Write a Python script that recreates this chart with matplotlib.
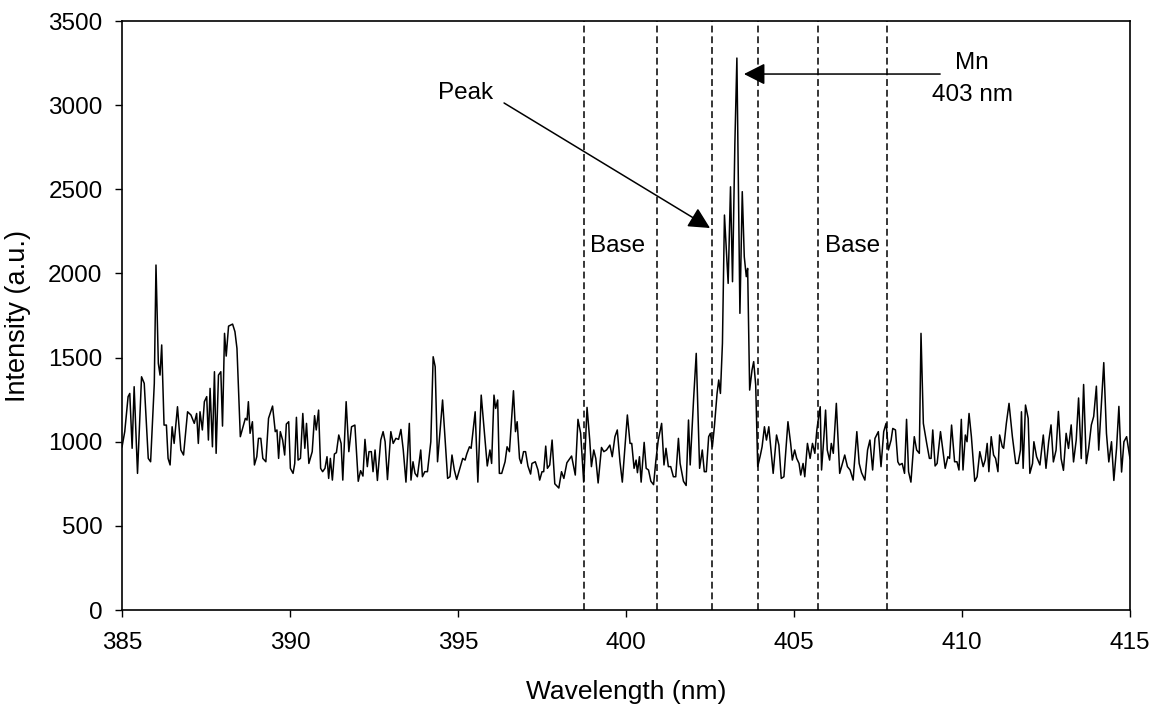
import numpy as np
import matplotlib
matplotlib.use("Agg")
import matplotlib.pyplot as plt

plt.rcParams["font.family"] = ["Liberation Sans", "DejaVu Sans"]

# ---- spectrum in segments ----
wl_a = [385.00, 385.08, 385.18, 385.23, 385.30, 385.36, 385.46, 385.58, 385.66, 385.78,
        385.85, 385.96, 386.01, 386.08, 386.13, 386.18, 386.25, 386.32, 386.37, 386.43,
        386.49, 386.55, 386.65, 386.75, 386.83, 386.95, 387.05, 387.15, 387.22, 387.27,
        387.32, 387.39, 387.45, 387.52, 387.57, 387.62, 387.69, 387.75, 387.80, 387.87,
        387.94, 387.99, 388.05, 388.10, 388.17, 388.29, 388.36]
int_a = [970, 1060, 1268, 1287, 961, 1327, 812, 1386, 1347, 901,
         881, 1347, 2050, 1466, 1396, 1575, 1099, 1099, 901, 862,
         1089, 990, 1208, 951, 921, 1178, 1159, 1109, 1168, 990,
         1178, 1070, 1238, 1268, 1010, 1317, 970, 1416, 931, 1396,
         1416, 1093, 1644, 1509, 1687, 1699, 1654]

wl_b = [388.42, 388.52, 388.60, 388.67, 388.72, 388.76, 388.81, 388.88, 388.94, 389.01,
        389.06, 389.13, 389.19, 389.28, 389.36, 389.48, 389.56, 389.61, 389.66, 389.71,
        389.78, 389.84, 389.89, 389.96, 390.01, 390.09, 390.14, 390.19, 390.24, 390.31,
        390.38, 390.44, 390.49, 390.56, 390.66, 390.73, 390.78, 390.85, 390.91, 390.97,
        391.04, 391.10, 391.15, 391.20, 391.26, 391.32, 391.38, 391.45, 391.52, 391.57,
        391.67, 391.75]
int_b = [1555, 1030, 1089, 1139, 1129, 1238, 1050, 1119, 862, 911,
         1020, 1020, 901, 881, 1139, 1212, 1060, 1070, 901, 1060,
         1010, 921, 1105, 1119, 842, 812, 871, 1145, 891, 901,
         1168, 961, 1109, 871, 941, 1155, 1070, 1188, 842, 822,
         842, 911, 782, 901, 772, 927, 935, 1040, 990, 772,
         1238, 941]

wl_c = [391.83, 391.93, 392.03, 392.10, 392.17, 392.23, 392.30, 392.35, 392.42, 392.47,
        392.53, 392.60, 392.70, 392.77, 392.83, 392.90, 393.00, 393.07, 393.15, 393.23,
        393.30, 393.37, 393.45, 393.55, 393.60, 393.66, 393.72, 393.79, 393.89, 393.94,
        394.01, 394.09, 394.19, 394.26, 394.32, 394.39, 394.54, 394.69, 394.76, 394.82,
        394.89, 394.96, 395.07, 395.14, 395.21, 395.26]
int_c = [1089, 1099, 765, 828, 796, 1014, 852, 941, 941, 822,
         951, 770, 1010, 1060, 1000, 775, 1060, 990, 1020, 1014,
         1073, 951, 760, 1109, 772, 881, 812, 792, 951, 792,
         822, 822, 1000, 1505, 1446, 881, 1248, 782, 792, 921,
         832, 776, 852, 901, 891, 927]

wl_d = [395.34, 395.39, 395.51, 395.59, 395.69, 395.87, 395.95, 396.00, 396.07, 396.12,
        396.18, 396.23, 396.30, 396.40, 396.46, 396.53, 396.65, 396.71, 396.76, 396.83,
        396.88, 396.95, 397.01, 397.08, 397.16, 397.20, 397.30, 397.38, 397.43, 397.50,
        397.55, 397.61, 397.66, 397.73, 397.80, 397.88, 398.00, 398.08, 398.15, 398.24,
        398.38, 398.49, 398.57]
int_d = [970, 961, 1178, 760, 1277, 856, 951, 871, 1277, 1198,
         1248, 812, 812, 881, 970, 941, 1303, 1060, 1119, 901,
         871, 941, 941, 856, 808, 871, 881, 832, 772, 822,
         822, 974, 842, 862, 1010, 750, 725, 822, 782, 875,
         915, 802, 1133]

wl_e = [398.65, 398.74, 398.84, 398.92, 398.97, 399.04, 399.10, 399.17, 399.27, 399.34,
        399.42, 399.52, 399.59, 399.67, 399.74, 399.82, 399.89, 400.04, 400.12, 400.17,
        400.24, 400.30, 400.34, 400.40, 400.45, 400.54, 400.60, 400.67, 400.74, 400.82,
        400.89, 400.96, 401.06, 401.13, 401.19, 401.26, 401.33, 401.41, 401.48, 401.56,
        401.61, 401.71, 401.79, 401.86, 401.91, 402.01]
int_e = [1050, 760, 1204, 1010, 852, 951, 901, 755, 966, 941,
         951, 980, 911, 1030, 1070, 881, 760, 1159, 990, 990,
         842, 891, 816, 911, 760, 996, 842, 832, 765, 745,
         891, 1010, 1109, 862, 961, 852, 852, 792, 792, 1020,
         871, 765, 740, 1129, 862, 1248]

wl_f = [402.09, 402.19, 402.27, 402.33, 402.39, 402.46, 402.51, 402.57, 402.63, 402.71,
        402.76, 402.81, 402.87, 402.93, 403.04, 403.11, 403.17, 403.24, 403.30, 403.39,
        403.46, 403.52, 403.58, 403.62, 403.68, 403.75, 403.80, 403.86, 403.92, 404.00,
        404.05, 404.12, 404.18, 404.25]
int_f = [1525, 842, 951, 822, 822, 1030, 1050, 970, 1089, 1287,
         1367, 1287, 1585, 2347, 1941, 2515, 1951, 2773, 3280, 1763,
         2486, 2099, 1981, 2030, 1307, 1426, 1476, 1337, 852, 921,
         970, 1089, 1010, 1089]

wl_g = [404.38, 404.48, 404.55, 404.62, 404.70, 404.82, 404.90, 404.95, 405.02, 405.08,
        405.15, 405.20, 405.27, 405.32, 405.40, 405.48, 405.55, 405.62, 405.68, 405.72,
        405.78, 405.82, 405.89, 405.94, 405.99, 406.06, 406.11, 406.17, 406.26, 406.36,
        406.44, 406.51, 406.59, 406.67, 406.76, 406.87, 406.94, 407.01, 407.11, 407.19,
        407.26, 407.34, 407.41, 407.51, 407.59, 407.67, 407.74, 407.81, 407.89]
int_g = [812, 1040, 980, 782, 792, 1119, 990, 891, 951, 901,
         871, 802, 871, 792, 990, 901, 990, 931, 1070, 1129,
         1208, 832, 1030, 1188, 951, 891, 990, 931, 1228, 812,
         871, 921, 852, 832, 772, 1060, 871, 816, 772, 951,
         1010, 832, 1020, 1060, 852, 1060, 1109, 951, 1010]

wl_h = [407.94, 408.02, 408.09, 408.14, 408.22, 408.29, 408.35, 408.41, 408.48, 408.58,
        408.65, 408.73, 408.78, 408.85, 408.95, 409.03, 409.08, 409.13, 409.20, 409.26,
        409.36, 409.43, 409.50, 409.58, 409.63, 409.69, 409.78, 409.85, 409.91, 409.98,
        410.03, 410.10, 410.15, 410.21, 410.28, 410.38, 410.45, 410.53, 410.63, 410.69,
        410.75, 410.80, 410.87, 410.94, 411.00, 411.07, 411.12, 411.20, 411.24, 411.32,
        411.40, 411.50, 411.60, 411.67, 411.74, 411.77, 411.82, 411.89, 411.97, 412.02,
        412.10, 412.14, 412.22, 412.32, 412.42, 412.50]
int_h = [1079, 1070, 881, 862, 871, 812, 1133, 822, 760, 1030,
         951, 931, 1644, 1109, 990, 901, 901, 1070, 856, 871,
         1060, 951, 842, 911, 901, 1099, 881, 881, 832, 1133,
         832, 1040, 1000, 1168, 1030, 765, 792, 941, 852, 891,
         990, 822, 1030, 921, 901, 822, 1040, 970, 961, 1109,
         1228, 1030, 871, 871, 951, 1178, 842, 1218, 1139, 812,
         871, 1000, 911, 862, 1040, 842]

wl_i = [412.58, 412.65, 412.72, 412.80, 412.87, 412.95, 413.02, 413.10, 413.17, 413.25,
        413.32, 413.40, 413.47, 413.55, 413.62, 413.70, 413.77, 413.85, 413.92, 414.00,
        414.07, 414.15, 414.22, 414.30, 414.37, 414.45, 414.52, 414.60, 414.67, 414.75,
        414.82, 414.90, 415.00]
int_i = [1000, 1100, 880, 950, 1180, 900, 830, 1050, 960, 1100,
         880, 1010, 1260, 900, 1340, 870, 960, 1100, 1150, 1330,
         950, 1230, 1470, 1050, 880, 1000, 770, 960, 1210, 820,
         1000, 1030, 900]

# integration windows (dashed lines), nm
window_edges = [398.75, 400.93, 402.55, 403.93, 405.72, 407.77]

wavelength = np.concatenate([wl_a, wl_b, wl_c, wl_d, wl_e, wl_f, wl_g, wl_h, wl_i])
intensity = np.concatenate([int_a, int_b, int_c, int_d, int_e, int_f, int_g, int_h, int_i])

FS = 17.5

fig = plt.figure(figsize=(11.58, 7.08), dpi=100)
ax = fig.add_axes([0.1054, 0.1384, 0.8704, 0.8319])

ax.plot(wavelength, intensity, color="black", lw=1.1)

for x in window_edges:
    ax.axvline(x, color="black", lw=1.1, linestyle=(0, (4.5, 2.5)))

arrow = dict(arrowstyle="-|>,head_length=0.65,head_width=0.33", color="black",
             lw=1.1, mutation_scale=20, shrinkA=0, shrinkB=0)
ax.annotate("", xy=(402.5, 2270), xytext=(396.37, 3013), arrowprops=arrow)
ax.annotate("", xy=(403.51, 3185), xytext=(409.35, 3185), arrowprops=arrow)

ax.text(395.23, 3075, "Peak", ha="center", va="center", fontsize=FS)
ax.text(410.3, 3250, "Mn", ha="center", va="center", fontsize=FS)
ax.text(410.3, 3060, "403 nm", ha="center", va="center", fontsize=FS)
ax.text(399.75, 2165, "Base", ha="center", va="center", fontsize=FS)
ax.text(406.74, 2165, "Base", ha="center", va="center", fontsize=FS)

ax.set_xlim(385, 415)
ax.set_ylim(0, 3500)
ax.set_xticks(np.arange(385, 416, 5))
ax.set_yticks(np.arange(0, 3501, 500))
ax.tick_params(direction="out", length=5, width=1, labelsize=FS)
ax.tick_params(axis="x", pad=11)
ax.tick_params(axis="y", pad=9)

for s in ax.spines.values():
    s.set_linewidth(1.2)
    s.set_color("black")

ax.set_xlabel("Wavelength (nm)", fontsize=19)
ax.set_ylabel("Intensity (a.u.)", fontsize=19.5)
ax.xaxis.set_label_coords(0.5, -0.118)
ax.yaxis.set_label_coords(-0.09, 0.5)

fig.savefig("out.png", dpi=100)
